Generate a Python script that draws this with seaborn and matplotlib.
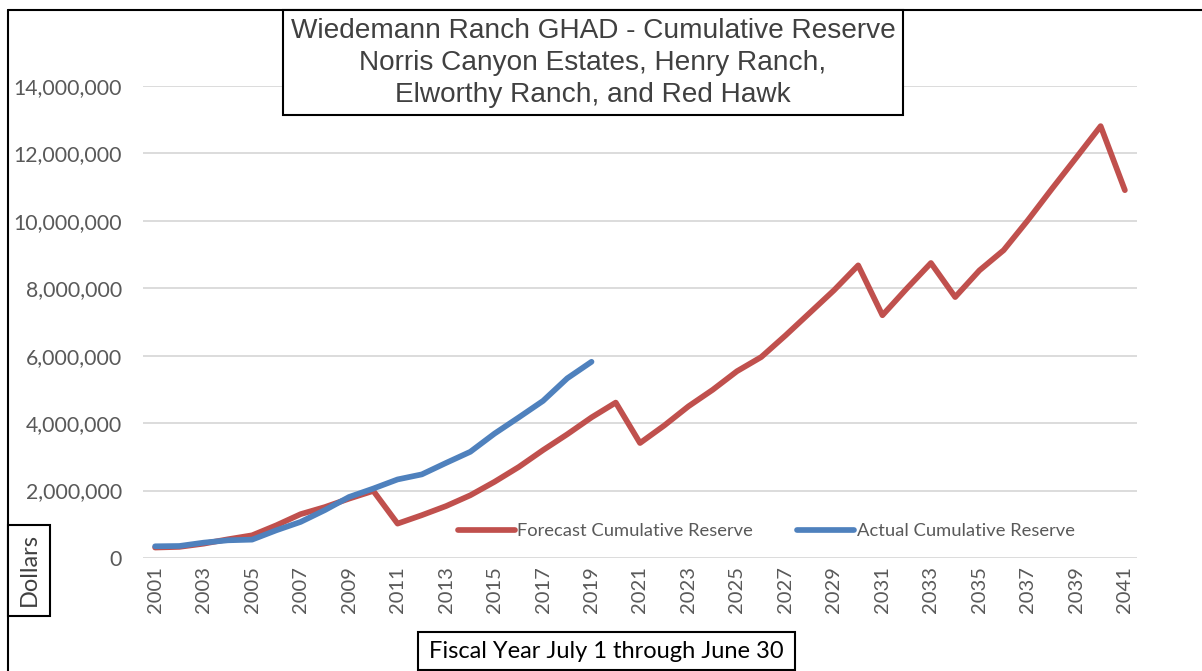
import numpy as np
import pandas as pd
import seaborn as sns
import matplotlib.pyplot as plt
from matplotlib.patches import Rectangle
from matplotlib.lines import Line2D
from matplotlib.ticker import FuncFormatter

# fiscal years on the category axis
years = list(range(2001, 2042))

forecast = [310000, 330000, 425000, 555000, 673000, 970000, 1300000, 1510000, 1760000, 1990000,
            1020000, 1270000, 1540000, 1860000, 2260000, 2700000, 3200000, 3670000, 4170000, 4610000,
            3410000, 3930000, 4500000, 4990000, 5540000, 5960000, 6600000, 7270000, 7940000, 8680000,
            7200000, 7990000, 8750000, 7740000, 8530000, 9130000, 10020000, 10960000, 11880000, 12810000,
            10910000]

actual_years = list(range(2001, 2020))
actual = [347000, 356000, 455000, 525000, 545000, 822000, 1070000, 1420000, 1810000, 2060000,
          2330000, 2480000, 2820000, 3150000, 3690000, 4170000, 4660000, 5330000, 5820000]

title_lines = ['Wiedemann Ranch GHAD - Cumulative Reserve',
               'Norris Canyon Estates, Henry Ranch,',
               'Elworthy Ranch, and Red Hawk']

sns.set_theme(style='white')
plt.rcParams['font.family'] = ['Lato', 'DejaVu Sans']

W, H = 1202, 671
fig = plt.figure(figsize=(W / 100, H / 100), dpi=100)
ax = fig.add_axes([143 / W, 1 - 558 / H, (1137 - 143) / W, (558 - 86) / H])

df_f = pd.DataFrame({'year': years, 'value': forecast})
df_a = pd.DataFrame({'year': actual_years, 'value': actual})

sns.lineplot(data=df_f, x='year', y='value', color='#C0504D', linewidth=4.1,
             label='Forecast Cumulative Reserve', ax=ax, solid_capstyle='round')
sns.lineplot(data=df_a, x='year', y='value', color='#4F81BD', linewidth=4.1,
             label='Actual Cumulative Reserve', ax=ax, solid_capstyle='round')

ax.set_xlim(2000.5, 2041.5)
ax.set_ylim(0, 14000000)
ax.set_yticks(np.arange(0, 14000001, 2000000))
ax.yaxis.set_major_formatter(FuncFormatter(lambda v, p: f'{int(v):,}'))
ax.set_xticks(years[::2])
ax.set_xticklabels([str(y) for y in years[::2]], rotation=90)
ax.tick_params(axis='y', labelsize=15.3, labelcolor='#595959', length=0, pad=15)
ax.tick_params(axis='x', labelsize=14.5, labelcolor='#595959', length=0, pad=6)
ax.grid(axis='y', color='#D9D9D9', linewidth=1.3)
ax.grid(axis='x', visible=False)
for s in ax.spines.values():
    s.set_visible(False)
ax.set_xlabel('')
ax.set_ylabel('')

leg = ax.legend(loc='center', bbox_to_anchor=(0.627, 0.057), ncol=2, frameon=False,
                fontsize=13.2, handlelength=3.1, columnspacing=2.4, handletextpad=0.15,
                labelcolor='#595959')

# outer frame of the chart (top and left edges)
fig.add_artist(Line2D([8 / W, 1], [1 - 10 / H, 1 - 10 / H], color='black', linewidth=1.5))
fig.add_artist(Line2D([8 / W, 8 / W], [0, 1 - 10 / H], color='black', linewidth=1.5))

# title box
fig.add_artist(Rectangle((283 / W, 1 - 115 / H), (903 - 283) / W, (115 - 10) / H,
                         transform=fig.transFigure, facecolor='white', edgecolor='black',
                         linewidth=1.5, zorder=5))
fig.text(593 / W, 1 - 63 / H, '\n'.join(title_lines), ha='center', va='center',
         fontsize=20.2, color='#404040', family=['Liberation Sans', 'DejaVu Sans'],
         linespacing=1.29, zorder=6)

# y label box
fig.add_artist(Rectangle((8 / W, 1 - 616 / H), (50 - 8) / W, (616 - 525) / H,
                         transform=fig.transFigure, facecolor='white', edgecolor='black',
                         linewidth=1.5, zorder=5))
fig.text(29 / W, 1 - 570 / H, 'Dollars', rotation=90, ha='center', va='center',
         fontsize=17, color='#404040', zorder=6)

# x label box
fig.add_artist(Rectangle((418 / W, 1 - 670 / H), (795 - 418) / W, (670 - 632) / H,
                         transform=fig.transFigure, facecolor='white', edgecolor='black',
                         linewidth=1.5, zorder=5))
fig.text(606 / W, 1 - 652 / H, 'Fiscal Year July 1 through June 30', ha='center', va='center',
         fontsize=17, color='black', zorder=6)

fig.savefig('out.png', dpi=100)
